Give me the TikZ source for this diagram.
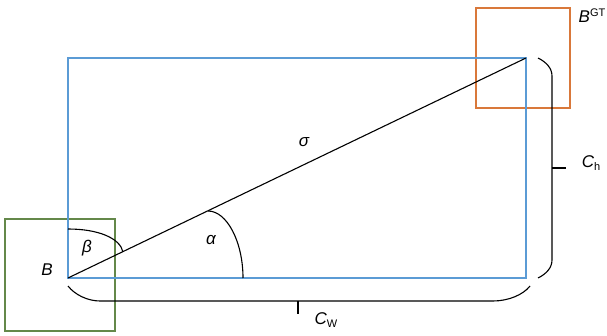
\documentclass[tikz,border=0pt]{standalone}
\usepackage{fontspec}
\setmainfont{Liberation Sans}
\definecolor{boxblue}{HTML}{5B9BD5}
\definecolor{boxorange}{HTML}{D9783A}
\definecolor{boxgreen}{HTML}{64884A}
\tikzset{
  bluebox/.style={draw=boxblue, line width=1.4pt},
  orangebox/.style={draw=boxorange, line width=1.4pt},
  greenbox/.style={draw=boxgreen, line width=1.4pt},
  blk/.style={draw=black, line width=1.1pt},
  lbl/.style={inner sep=0pt, font=\fontsize{17}{20}\selectfont\itshape},
}
\newcommand{\smalltxt}[1]{{\fontsize{11}{11}\selectfont\upshape #1}}
\begin{document}
\begin{tikzpicture}[x=1pt,y=-1pt]
\useasboundingbox (0,0) rectangle (607,336);
% corners
\coordinate (BL) at (68,278);
\coordinate (TR) at (526,58);
\coordinate (g1) at (5,219);
\coordinate (g2) at (115,331);
\coordinate (o1) at (476,8);
\coordinate (o2) at (570,108);
% boxes
\draw[greenbox] (g1) rectangle (g2);
\draw[orangebox] (o1) rectangle (o2);
\draw[bluebox] (BL) rectangle (TR);
% diagonal
\draw[blk] (BL) -- (TR);
% alpha arc
\coordinate (a1) at (208,211);
\coordinate (a2) at (243,278);
\draw[blk] (a1) .. controls (227,211) and (243,242) .. (a2);
% beta arc
\coordinate (b1) at (68,229);
\coordinate (b2) at (123,252);
\draw[blk] (b1) .. controls (98,229) and (120,238) .. (b2);
% bottom brace
\coordinate (w1) at (68,286);
\coordinate (w2) at (530,286);
\coordinate (wm) at (298,301);
\coordinate (wt) at (298,314);
\draw[blk] (w1) .. controls (75,295) and (88,301) .. (100,301) -- (493,301) .. controls (508,301) and (523,295) .. (w2);
\draw[blk] (wm) -- (wt);
% right brace
\coordinate (h1) at (538,58);
\coordinate (h2) at (538,278);
\coordinate (hm) at (552,168);
\coordinate (ht) at (566,168);
\draw[blk] (h1) .. controls (546,62) and (552,68) .. (552,76) -- (552,260) .. controls (552,268) and (546,274) .. (h2);
\draw[blk] (hm) -- (ht);
% labels
\node[lbl] (lB) at (47,270) {B};
\node[lbl] (lbeta) at (87,248) {β};
\node[lbl] (lalpha) at (211,240) {α};
\node[lbl] (lsigma) at (304,142) {σ};
\node[lbl] (lBGT) at (592,16) {B\raisebox{6pt}{\smalltxt{GT}}};
\node[lbl] (lCh) at (591,163) {C\raisebox{-3pt}{\smalltxt{h}}};
\node[lbl] (lCw) at (326,320) {C\raisebox{-3pt}{\smalltxt{W}}};
\end{tikzpicture}
\end{document}
